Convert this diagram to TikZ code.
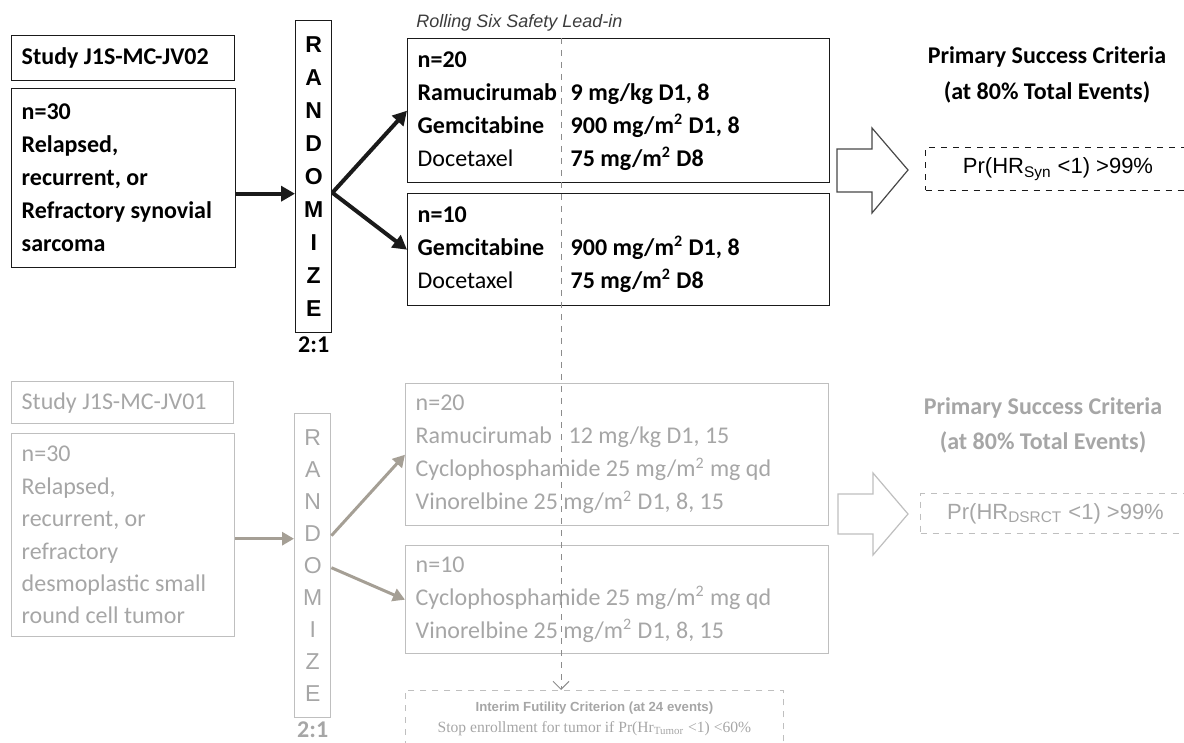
\documentclass[tikz,border=0pt]{standalone}
\usepackage{fontspec}
\setmainfont{Carlito}
\newfontfamily\arialfont{Liberation Sans}
\newfontfamily\timesfont{Liberation Serif}
\usetikzlibrary{arrows.meta,positioning}
\definecolor{ink}{HTML}{1A1A1A}
\definecolor{fadetext}{HTML}{A6A6A6}
\definecolor{fadeline}{HTML}{BFBFBF}
\definecolor{fadearrow}{HTML}{A59F95}
\definecolor{leadline}{HTML}{8C8C8C}
\newcommand{\drug}[2]{\makebox[76.5pt][l]{#1}#2}
\newcommand{\msq}{mg/m\textsuperscript{2}}
\tikzset{x=0.5pt, y=-0.5pt,
    every node/.style={font=\fontsize{12}{16.5}\selectfont},
    box/.style={draw=ink, line width=0.7pt, anchor=north west, align=flush left,
        inner xsep=5pt, inner ysep=0pt},
    faded/.style={draw=fadeline, text=fadetext},
    randbox/.style={draw=ink, line width=0.7pt, anchor=north west, align=center,
        inner sep=0pt, minimum width=18pt},
    crit/.style={draw=ink, dashed, line width=0.5pt, anchor=north west, inner sep=0pt,
        font=\arialfont\fontsize{11}{13}\selectfont},
    bigarrow/.style={draw=ink, line width=2pt, -{Triangle[length=7pt,width=7.5pt]}},
    greyarrow/.style={draw=fadearrow, line width=1.5pt, -{Triangle[length=6pt,width=6.5pt]}},
    blockarrow/.style={draw=ink!80, fill=white, line width=0.6pt, line join=miter},
    }
\begin{document}
\begin{tikzpicture}
\useasboundingbox (0,0) rectangle (1184,743);
% --- study J1S-MC-JV02
\node[box, text width=101.5pt, minimum height=22.5pt] (studyA) at (11,35) {\bfseries Study J1S-MC-JV02};
\node[box, text width=102pt, minimum height=89.5pt] (popA) at (11,88)
    {\bfseries n=30\\\bfseries Relapsed,\\\bfseries recurrent, or\\\bfseries Refractory synovial\\\bfseries sarcoma};
\node[randbox, minimum height=156pt, font=\arialfont\bfseries\fontsize{11.5}{16.5}\selectfont] (randA) at (295,20)
    {R\\A\\N\\D\\O\\M\\I\\Z\\E};
\node[below=1.5pt of randA, inner sep=0pt, font=\bfseries\fontsize{12}{14}\selectfont] (ratioA) {2:1};
\node[anchor=west, inner sep=0pt, text=ink!85, font=\arialfont\itshape\fontsize{9}{11}\selectfont] (leadin) at (416,23)
    {Rolling Six Safety Lead-in};
\node[box, text width=201pt, minimum height=72pt] (armA1) at (407,38)
    {\textbf{n=20}\\\drug{\textbf{Ramucirumab}}{\textbf{9 mg/kg D1, 8}}\\
     \drug{\textbf{Gemcitabine}}{\textbf{900 \msq{} D1, 8}}\\\drug{Docetaxel}{\textbf{75 \msq{} D8}}};
\node[box, text width=201pt, minimum height=56pt] (armA2) at (407,193)
    {\textbf{n=10}\\\drug{\textbf{Gemcitabine}}{\textbf{900 \msq{} D1, 8}}\\\drug{Docetaxel}{\textbf{75 \msq{} D8}}};
\node[align=center, font=\bfseries\fontsize{12}{18}\selectfont] (goalA) at (1047,75)
    {Primary Success Criteria\\(at 80\% Total Events)};
\node[crit, minimum width=132.5pt, minimum height=21.5pt] (critA) at (925,147)
    {Pr(HR\textsubscript{Syn} <1) >99\%};
\draw[blockarrow] (837,149) -- (872,149) -- (872,128) -- (908,170) -- (872,213) -- (872,192) -- (837,192) -- cycle;
\draw[bigarrow] ([yshift=-7.75pt]popA.east) -- ([yshift=-7.75pt]popA.east -| randA.west);
\draw[bigarrow] ([yshift=-8pt]randA.east) -- (armA1.west);
\draw[bigarrow] ([yshift=-8pt]randA.east) -- (armA2.west);
% --- study J1S-MC-JV01 (faded)
\node[box, faded, text width=101pt, minimum height=21pt] (studyB) at (11,381) {Study J1S-MC-JV01};
\node[box, faded, text width=101.5pt, minimum height=101.5pt, font=\fontsize{12}{16.2}\selectfont] (popB) at (11,433)
    {n=30\\Relapsed,\\recurrent, or\\refractory\\desmoplastic small\\round cell tumor};
\node[randbox, faded, minimum height=152pt, font=\arialfont\fontsize{11.5}{16}\selectfont] (randB) at (294,413)
    {R\\A\\N\\D\\O\\M\\I\\Z\\E};
\node[below=1.5pt of randB, inner sep=0pt, text=fadetext, font=\bfseries\fontsize{12}{14}\selectfont] (ratioB) {2:1};
\node[box, faded, text width=201.5pt, minimum height=71pt] (armB1) at (405,383)
    {n=20\\\drug{Ramucirumab}{12 mg/kg D1, 15}\\Cyclophosphamide 25 \msq{} mg qd\\Vinorelbine 25 \msq{} D1, 8, 15};
\node[box, faded, text width=201.5pt, minimum height=54pt] (armB2) at (405,545)
    {n=10\\Cyclophosphamide 25 \msq{} mg qd\\Vinorelbine 25 \msq{} D1, 8, 15};
\node[align=center, text=fadetext, font=\bfseries\fontsize{12}{17.5}\selectfont] (goalB) at (1043,425)
    {Primary Success Criteria\\(at 80\% Total Events)};
\node[crit, draw=fadeline, text=fadetext, minimum width=135pt, minimum height=20pt] (critB) at (920,493)
    {Pr(HR\textsubscript{DSRCT} <1) >99\%};
\draw[blockarrow, draw=fadeline] (838,494) -- (873,494) -- (873,473) -- (908,514) -- (873,555) -- (873,534) -- (838,534) -- cycle;
\draw[greyarrow] ([yshift=-1.75pt]popB.east) -- ([yshift=-1.75pt]popB.east -| randB.west);
\draw[greyarrow] ([yshift=15pt]randB.east) -- (armB1.west);
\draw[greyarrow] ([yshift=-1pt]randB.east) -- (armB2.west);
% --- futility look
\node[anchor=north west, draw=fadeline, dashed, minimum width=189pt, minimum height=28.5pt, align=center,
    inner sep=0pt, text=fadetext, font=\fontsize{7.8}{10.5}\selectfont] (interim) at (405,690)
    {{\arialfont\bfseries\fontsize{6.6}{10.5}\selectfont Interim Futility Criterion (at 24 events)}\\
     {\timesfont Stop enrollment for tumor if Pr(Hr\textsubscript{Tumor} <1) <60\%}};
\coordinate (leadtop) at (561,38);
\draw[leadline, dashed, line width=0.5pt, -{Straight Barb[length=4pt,width=8pt]}] (leadtop) -- (leadtop |- interim.north);
\end{tikzpicture}
\end{document}
